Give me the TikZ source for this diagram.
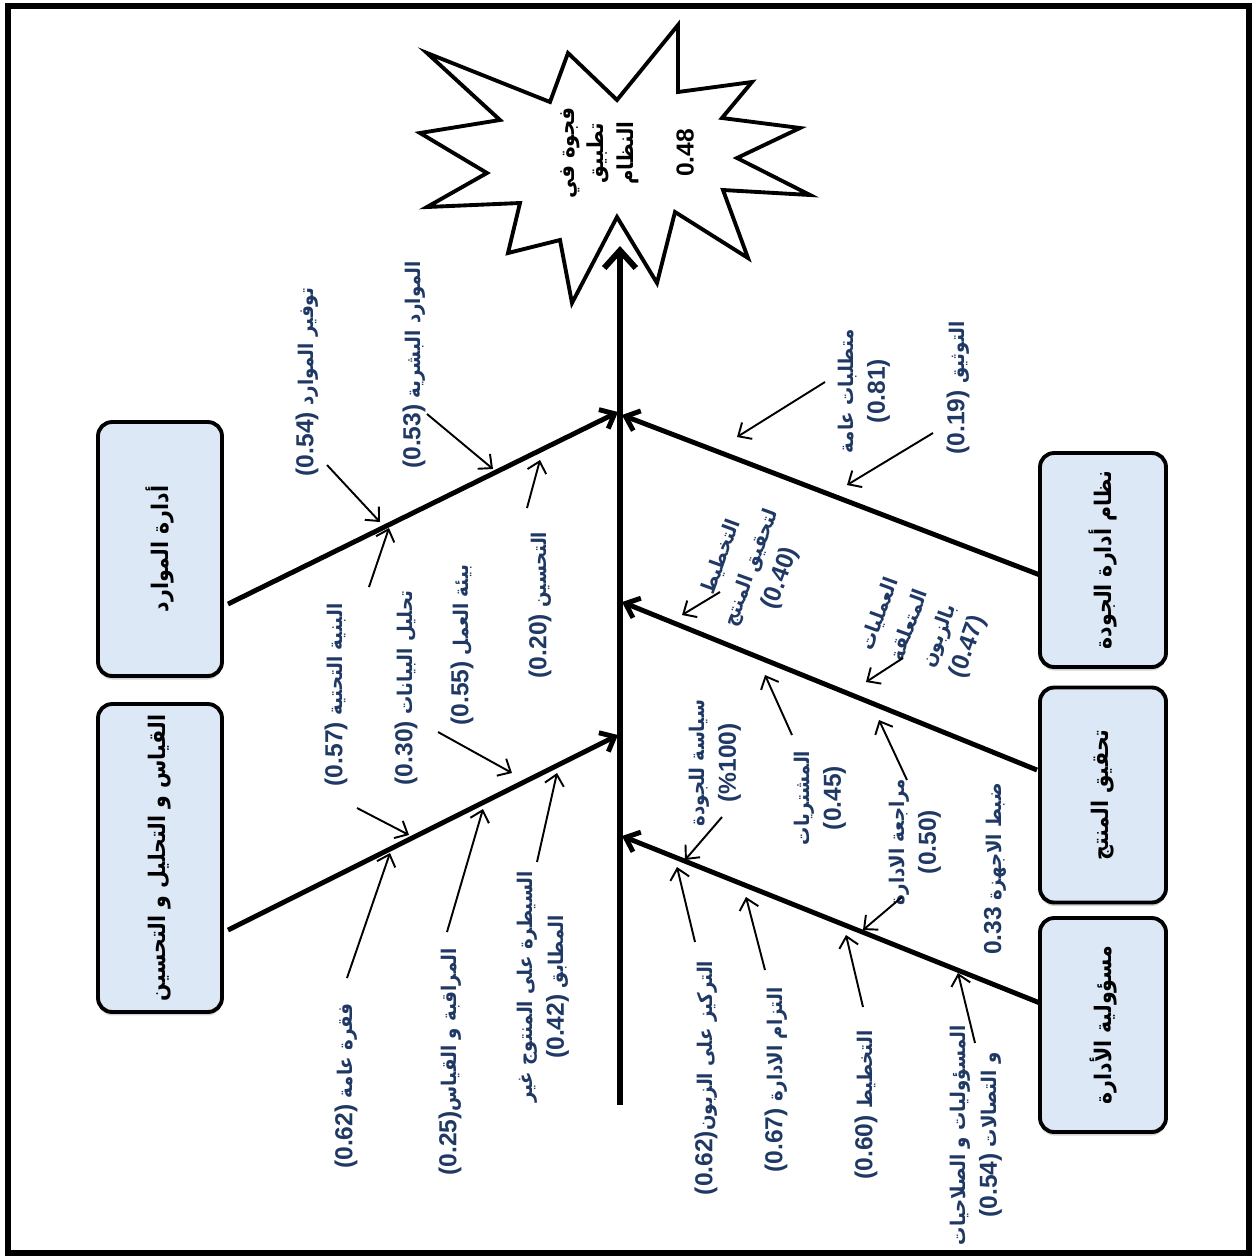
\documentclass[tikz,border=0pt]{standalone}
\usepackage{fontspec}
\setmainfont{DejaVu Sans}
\newfontfamily\arabicfont[Script=Arabic]{DejaVu Sans Condensed}
\newfontfamily\numfont{Liberation Sans}
\TeXXeTstate=1
\usetikzlibrary{arrows.meta,calc,shadows}
\definecolor{lblblue}{RGB}{31,56,100}
\definecolor{boxfill}{RGB}{221,232,247}
\newcommand{\artxt}[1]{\beginR #1\endR}
\newcommand{\numtxt}[1]{\beginL{\numfont\bfseries\fontsize{14}{18}\selectfont #1}\endL}

\begin{document}
\begin{tikzpicture}[x=0.02cm, y=-0.02cm,
  lbl/.style={text=lblblue, font=\arabicfont\bfseries\fontsize{11.5}{18}\selectfont, align=center, rotate=90, inner sep=1pt},
  box/.style={draw, line width=2.2pt, rounded corners=8pt, fill=boxfill, rotate=90, font=\arabicfont\bfseries\fontsize{13}{18}\selectfont, drop shadow={opacity=0.35, shadow xshift=0pt, shadow yshift=-2pt}},
  branch/.style={line width=2.8pt, -{Straight Barb[length=7pt,width=12pt]}},
  sub/.style={line width=1.1pt, -{Straight Barb[length=6pt,width=11pt]}}]
  \useasboundingbox (0,0) rectangle (1256,1259);
  \draw[line width=3pt] (8,6) rectangle (1249,1253);

  % effect
  \draw[line width=2.2pt, line join=miter, fill=white] (427,53) -- (550,102) -- (568,53) -- (617,100) -- (678,25) -- (678,92) -- (752,82) -- (722,118) -- (800,128) -- (737,158) -- (810,195) -- (723,190) -- (748,258) -- (675,212) -- (657,283) -- (617,217) -- (572,303) -- (560,240) -- (508,253) -- (520,203) -- (427,207) -- (487,173) -- (420,133) -- (500,120) -- cycle;
  \node[rotate=90, align=center, font=\arabicfont\bfseries\fontsize{12.5}{17}\selectfont] (gap) at (627,153) {\artxt{فجوة في}\\\artxt{تطبيق}\\\artxt{النظام}\\ \\\numtxt{0.48}};

  % categories
  \node[box, minimum width=5.08cm, minimum height=2.48cm] (res) at (160,549) {\artxt{أدارة الموارد}};
  \node[box, minimum width=6.16cm, minimum height=2.48cm] (mea) at (160,858) {\artxt{القياس و التحليل و التحسين}};
  \node[box, minimum width=4.28cm, minimum height=2.52cm] (qms) at (1103,560) {\artxt{نظام أدارة الجودة}};
  \node[box, minimum width=4.30cm, minimum height=2.52cm] (prd) at (1103,795) {\artxt{تحقيق المنتج}};
  \node[box, minimum width=4.28cm, minimum height=2.52cm] (mgt) at (1103,1025) {\artxt{مسؤولية الأدارة}};

  % spine
  \coordinate (sb) at (620,1105);
  \coordinate (st) at (620,246);
  \coordinate (j1) at (618,412);
  \coordinate (j1r) at (622,415);
  \coordinate (j2) at (622,602);
  \coordinate (j3) at (618,735);
  \coordinate (j4) at (622,836);
  \draw[line width=3.4pt, -{Straight Barb[length=10pt,width=18pt]}] (sb) -- (st);

  \draw[branch] ($(res.center)+(68,55)$) -- (j1);
  \draw[branch] ($(mea.center)+(68,72)$) -- (j3);
  \draw[branch] ($(qms.center)+(-63,15)$) -- (j1r);
  \draw[branch] ($(prd.center)+(-66,-25)$) -- (j2);
  \draw[branch] ($(mgt.center)+(-63,-22)$) -- (j4);

  % causes
  \node[lbl] (l054) at (307,382) {\artxt{توفير الموارد \numtxt{(0.54)}}};
  \node[lbl] (l053) at (414,365) {\artxt{الموارد البشرية \numtxt{(0.53)}}};
  \node[lbl] (l020) at (540,605) {\artxt{التحسين \numtxt{(0.20)}}};
  \node[lbl] (l055) at (462,645) {\artxt{بيئة العمل \numtxt{(0.55)}}};
  \node[lbl] (l030) at (406,688) {\artxt{تحليل البيانات \numtxt{(0.30)}}};
  \node[lbl] (l057) at (336,695) {\artxt{البنية التحتية \numtxt{(0.57)}}};
  \node[lbl] (l062a) at (346,1086) {\artxt{فقرة عامة \numtxt{(0.62)}}};
  \node[lbl] (l025) at (450,1062) {\artxt{المراقبة و القياس\numtxt{(0.25)}}};
  \node[lbl] (l042) at (543,987) {\artxt{السيطرة على المنتوج غير}\\\artxt{المطابق \numtxt{(0.42)}}};
  \node[lbl] (l081) at (864,391) {\artxt{متطلبات عامة}\\\numtxt{(0.81)}};
  \node[lbl] (l019) at (958,388) {\artxt{التوثيق \numtxt{(0.19)}}};
  \node[lbl, rotate=-20] (l040) at (752,568) {\artxt{التخطيط}\\\artxt{لتحقيق المنتج}\\\numtxt{(0.40)}};
  \node[lbl, rotate=-20] (l047) at (925,631) {\artxt{العمليات}\\\artxt{المتعلقة}\\\artxt{بالزبون}\\\numtxt{(0.47)}};
  \node[lbl] (l100) at (715,763) {\artxt{سياسة للجودة}\\\numtxt{(\%100)}};
  \node[lbl] (l045) at (820,798) {\artxt{المشتريات}\\\numtxt{(0.45)}};
  \node[lbl] (l050) at (915,842) {\artxt{مراجعة الادارة}\\\numtxt{(0.50)}};
  \node[lbl] (l033) at (995,869) {\artxt{ضبط الاجهزة \numtxt{0.33}}};
  \node[lbl] (l062b) at (706,1078) {\artxt{التركيز على الزبون\numtxt{(0.62)}}};
  \node[lbl] (l067) at (776,1080) {\artxt{التزام الادارة \numtxt{(0.67)}}};
  \node[lbl] (l060) at (866,1105) {\artxt{التخطيط \numtxt{(0.60)}}};
  \node[lbl] (l054b) at (976,1135) {\artxt{المسؤوليات و الصلاحيات}\\\artxt{و التصالات \numtxt{(0.54)}}};

  % cause arrows
  \coordinate (t1) at (327,465);  \coordinate (h1) at (380,522);
  \coordinate (t2) at (427,414);  \coordinate (h2) at (493,469);
  \coordinate (t3) at (527,508);  \coordinate (h3) at (540,460);
  \coordinate (t4) at (369,587);  \coordinate (h4) at (389,528);
  \coordinate (t5) at (438,732);  \coordinate (h5) at (512,773);
  \coordinate (t6) at (357,808);  \coordinate (h6) at (409,835);
  \coordinate (t7) at (347,978);  \coordinate (h7) at (390,853);
  \coordinate (t8) at (447,932);  \coordinate (h8) at (483,809);
  \coordinate (t9) at (537,862);  \coordinate (h9) at (557,773);
  \coordinate (t10) at (825,382); \coordinate (h10) at (737,437);
  \coordinate (t11) at (933,433); \coordinate (h11) at (847,485);
  \coordinate (t12) at (720,592); \coordinate (h12) at (682,615);
  \coordinate (t13) at (903,658); \coordinate (h13) at (866,682);
  \coordinate (t14) at (792,735); \coordinate (h14) at (765,675);
  \coordinate (t15) at (907,780); \coordinate (h15) at (879,720);
  \coordinate (t16) at (722,817); \coordinate (h16) at (685,860);
  \coordinate (t17) at (902,897); \coordinate (h17) at (863,930);
  \coordinate (t18) at (695,942); \coordinate (h18) at (677,867);
  \coordinate (t19) at (765,970); \coordinate (h19) at (746,897);
  \coordinate (t20) at (863,1007); \coordinate (h20) at (846,935);
  \coordinate (t21) at (975,1043); \coordinate (h21) at (958,973);
  \foreach \i in {1,...,21}
    \draw[sub] (t\i) -- (h\i);
\end{tikzpicture}
\end{document}
